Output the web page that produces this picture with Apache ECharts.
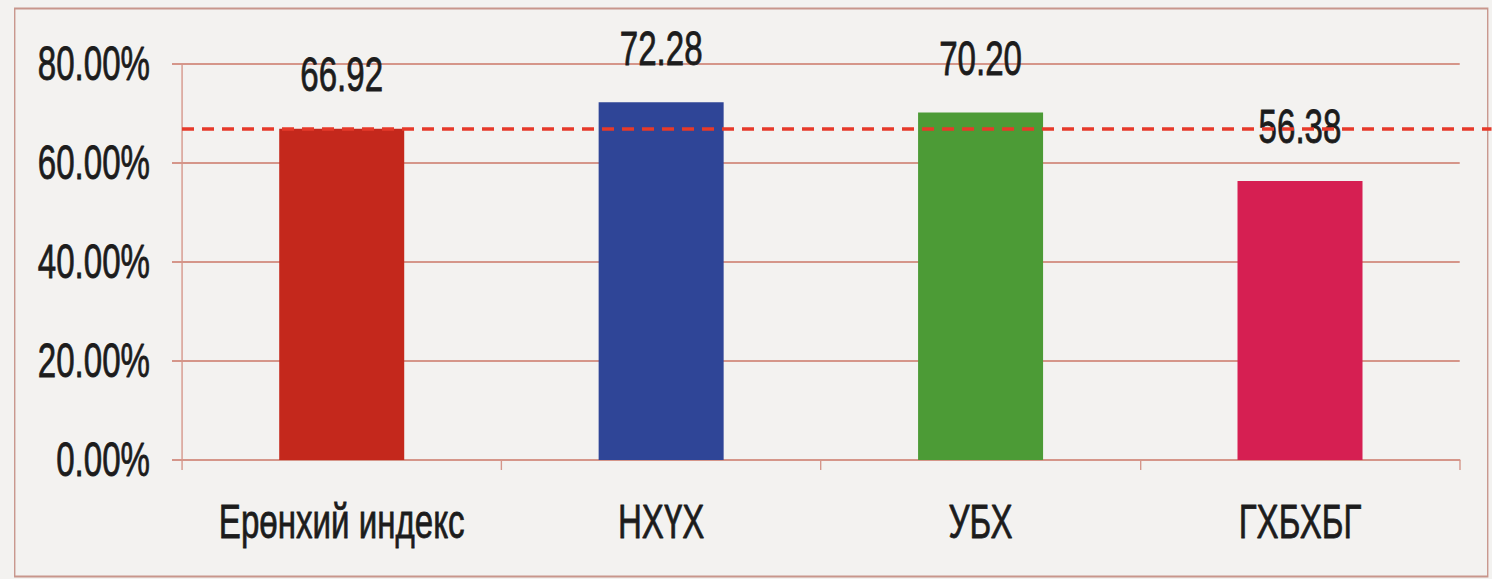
<!DOCTYPE html>
<html>
<head>
<meta charset="utf-8">
<script src="https://cdn.jsdelivr.net/npm/echarts@6/dist/echarts.min.js"></script>
<style>
    html, body { margin: 0; padding: 0; background: #f3f2f0; overflow: hidden; }
    #main { height: 579px; transform-origin: 0 0; }
</style>
</head>
<body>
<div id="main"></div>
<script>
var categories = ['Ерөнхий индекс', 'НХҮХ', 'УБХ', 'ГХБХБГ'];
var values = [66.92, 72.28, 70.20, 56.38];
var barColors = ['#c4281c', '#2f4597', '#4c9b36', '#d61f52'];
var referenceLine = 66.92; // ерөнхий индекс
var yTicks = [0, 20, 40, 60, 80];

// текстийг нарийн (Arial Narrow шиг) харагдуулахын тулд өргөн зураад хэвтээ чиглэлд шахна
var sx = 1.45;
function px(v) { return v * sx; }

var font = "'Liberation Sans', Arial, sans-serif";
var textColor = '#1c1c1c';
var lineColor = '#d5968a';

var textStyle = {
    color: textColor,
    fontFamily: font,
    fontSize: 48,
    textBorderColor: textColor,
    textBorderWidth: 0.8
};

var dom = document.getElementById('main');
dom.style.width = px(1492) + 'px';
dom.style.transform = 'scaleX(' + (1 / sx) + ')';

var myChart = echarts.init(dom, null, { renderer: 'svg' });

var option = {
    backgroundColor: '#f3f2f0',
    animation: false,
    graphic: [{
        type: 'rect',
        left: px(13),
        top: 6,
        shape: { width: px(1473), height: 568 },
        style: { fill: 'none', stroke: '#c8968c', lineWidth: 2 },
        silent: true
    }],
    grid: {
        left: px(182),
        right: px(32),
        top: 64,
        bottom: 119
    },
    xAxis: {
        type: 'category',
        data: categories,
        axisLine: { lineStyle: { color: lineColor, width: 2 } },
        axisTick: { show: true, length: 10, lineStyle: { color: lineColor, width: 2 } },
        axisLabel: Object.assign({ interval: 0, margin: 38 }, textStyle)
    },
    yAxis: {
        type: 'value',
        min: yTicks[0],
        max: yTicks[yTicks.length - 1],
        interval: yTicks[1] - yTicks[0],
        axisLine: { show: true, lineStyle: { color: lineColor, width: 2 } },
        axisTick: { show: true, length: px(10), lineStyle: { color: lineColor, width: 2 } },
        splitLine: { show: true, lineStyle: { color: lineColor, width: 2 } },
        axisLabel: Object.assign({
            margin: px(32),
            formatter: function (v) { return v.toFixed(2) + '%'; }
        }, textStyle)
    },
    series: [{
        type: 'bar',
        barWidth: px(125),
        data: values.map(function (v, i) {
            return { value: v, itemStyle: { color: barColors[i] } };
        }),
        label: Object.assign({
            show: true,
            position: 'top',
            distance: 30,
            formatter: function (p) { return p.value.toFixed(2); }
        }, textStyle),
        markLine: {
            silent: true,
            symbol: 'none',
            label: { show: false },
            lineStyle: { color: '#e63a2a', type: [px(12), px(8)], width: 3.5 },
            data: [[{ yAxis: referenceLine, x: px(182) }, { yAxis: referenceLine, x: '100%' }]]
        }
    }]
};

myChart.setOption(option);

window.addEventListener('resize', function () {
    myChart.resize();
});
</script>
</body>
</html>
